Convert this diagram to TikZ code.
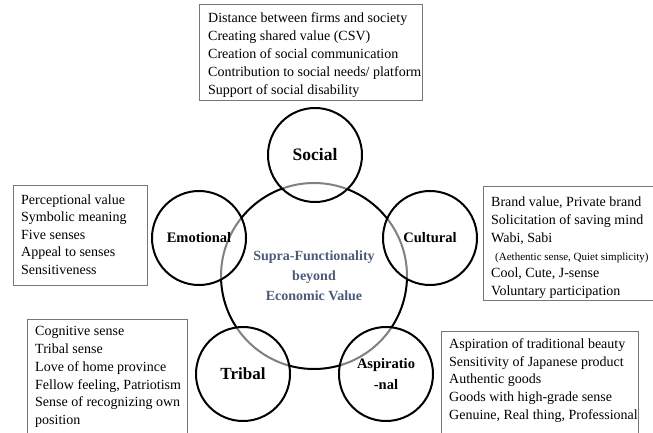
\documentclass[tikz,border=0pt]{standalone}
\usepackage{fontspec}
\setmainfont{Liberation Serif}
\usepackage{tikz}
\usetikzlibrary{positioning}
\definecolor{slate}{HTML}{4B5A78}
\definecolor{frame}{HTML}{777777}
\tikzset{
x=1pt, y=-1pt, % picture drawn in pixel units, y downwards
core/.style={circle, draw, line width=2pt, minimum size=186pt, inner sep=0pt}, % the big middle circle
facet/.style={circle, draw, line width=2pt, minimum size=94pt, inner sep=0pt,
  fill=white, fill opacity=0.5, text opacity=1, font=\bfseries\fontsize{14.5}{21}\selectfont, align=center}, % the five small circles
panel/.style={rectangle, draw=frame, line width=0.8pt, inner sep=0pt, anchor=north west}, % the grey boxes
bodytext/.style={inner sep=0pt, align=left, font=\fontsize{14}{18}\selectfont}, % text in the boxes
}

\begin{document}
\begin{tikzpicture}
  \useasboundingbox (0,0) rectangle (653,432);
  \clip (0,0) rectangle (653,432);

  % boxes
  \node[panel, minimum width=223pt, minimum height=96pt] (socialbox) at (199,4) {};
  \node[panel, minimum width=134pt, minimum height=100pt] (emobox) at (13,185) {};
  \node[panel, minimum width=177pt, minimum height=114pt] (cultbox) at (483,186) {};
  \node[panel, minimum width=160pt, minimum height=125pt] (tribbox) at (27,319) {};
  \node[panel, minimum width=197pt, minimum height=115pt] (aspbox) at (441,331) {};

  \node[bodytext, below right=6pt and 9pt of socialbox.north west] (socialtext)
    {\strut Distance between firms and society\\
     Creating shared value (CSV)\\
     Creation of social communication\\
     Contribution to social needs/ platform\\
     Support of social disability};
  \node[bodytext, font=\fontsize{14}{17.5}\selectfont, below right=7pt and 8pt of emobox.north west] (emotext)
    {\strut Perceptional value\\
     Symbolic meaning\\
     Five senses\\
     Appeal to senses\\
     Sensitiveness};
  \node[bodytext, font=\fontsize{14}{17.8}\selectfont, below right=8pt and 8pt of cultbox.north west] (culttext)
    {\strut Brand value, Private brand\\
     Solicitation of saving mind\\
     Wabi, Sabi\\
     {\fontsize{11}{17.8}\selectfont\hspace{4pt}(Aethentic sense, Quiet simplicity)}\\
     Cool, Cute, J-sense\\
     Voluntary participation};
  \node[bodytext, font=\fontsize{14}{17.8}\selectfont, below right=4pt and 8pt of tribbox.north west] (tribtext)
    {\strut Cognitive sense\\
     Tribal sense\\
     Love of home province\\
     Fellow feeling, Patriotism\\
     Sense of recognizing own\\
     position};
  \node[bodytext, font=\fontsize{14}{17.7}\selectfont, below right=5pt and 8pt of aspbox.north west] (asptext)
    {\strut Aspiration of traditional beauty\\
     Sensitivity of Japanese product\\
     Authentic goods\\
     Goods with high-grade sense\\
     Genuine, Real thing, Professional};

  % circles
  \node[core, text=slate, align=center, font=\bfseries\fontsize{14}{20}\selectfont] (value) at (314,276)
    {Supra-Functionality\\beyond\\Economic Value};
  \node[facet, font=\bfseries\fontsize{17.5}{21}\selectfont] (social) at (315,155) {Social};
  \node[facet] (emotional) at (199,238) {Emotional};
  \node[facet] (cultural) at (430,238) {Cultural};
  \node[facet, font=\bfseries\fontsize{17}{21}\selectfont] (tribal) at (243,374) {Tribal};
  \node[facet] (aspirational) at (386,374) {Aspiratio\\-nal};
\end{tikzpicture}
\end{document}
